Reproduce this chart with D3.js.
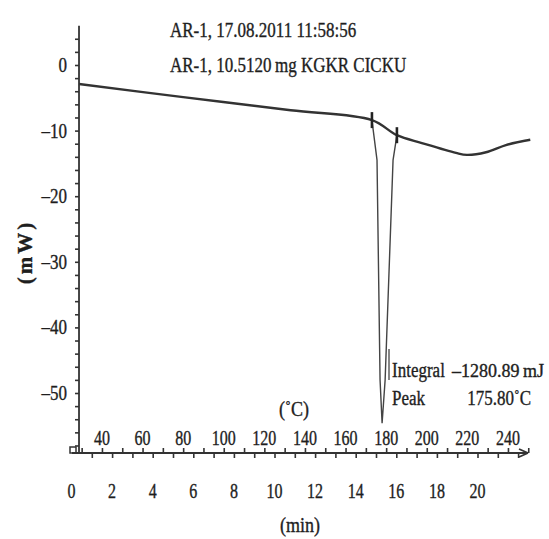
<!DOCTYPE html>
<html>
<head>
<meta charset="utf-8">
<script src="https://cdn.jsdelivr.net/npm/d3@7"></script>
<style>
  body { margin: 0; background: #fff; }
  text { font-family: "Liberation Serif", "DejaVu Serif", serif; fill: #1e1e1e; stroke: #1e1e1e; stroke-width: 0.35; }
</style>
</head>
<body>
<div id="chart"></div>
<script>
// DSC curve (time in min, heat flow in mW)
var curveTime = [0.37, 5.5, 10.8, 14.8, 16.03, 17.26, 18.94, 19.48, 20.42, 21.4, 22.6];
var curveFlow = [-2.9, -4.9, -6.9, -8.4, -10.7, -11.9, -13.4, -13.7, -13.3, -12.2, -11.4];

// melting peak between the two integration limits
var peakTime = [14.8, 15.05, 15.2, 15.3, 15.45, 15.84, 16.03];
var peakFlow = [-8.4, -14.5, -48.0, -54.6, -48.0, -14.5, -10.7];

// integration limits
var limitTime = [14.8, 16.03];
var limitFlow = [-8.4, -10.7];

var flowTicks = [0, -10, -20, -30, -40, -50];
var minTicks = [0, 2, 4, 6, 8, 10, 12, 14, 16, 18, 20];
var tempTicks = [40, 60, 80, 100, 120, 140, 160, 180, 200, 220, 240];

var titleLines = ["AR-1, 17.08.2011 11:58:56", "AR-1, 10.5120\u2009mg KGKR CICKU"];
var integralText = "\u20131280.89\u2009mJ";
var peakText = "175.80\u02DAC";

var svgWidth = 549;
var svgHeight = 539;

// squeeze text sideways, the source uses a narrow Times
function condense(sel, k) {
    sel.each(function() {
        var w = this.getComputedTextLength();
        d3.select(this)
            .attr("textLength", w * k)
            .attr("lengthAdjust", "spacingAndGlyphs");
    });
}

var svg = d3.select("#chart")
    .append("svg")
    .attr("width", svgWidth)
    .attr("height", svgHeight);

// scales: 10 C per minute, starting at 25 C
var x = d3.scaleLinear().domain([0, 20]).range([71.5, 477.5]);
var xT = d3.scaleLinear().domain([25, 225]).range([71.5, 477.5]);
var y = d3.scaleLinear().domain([0, -50]).range([65, 393]);

var axisY = 453;
var yAxisX = x(0.37);
var ink = "#333";

// y axis
svg.append("line")
    .attr("x1", yAxisX).attr("x2", yAxisX)
    .attr("y1", y(6)).attr("y2", axisY)
    .attr("stroke", ink).attr("stroke-width", 1.8);

var leftAxis = d3.axisLeft(y)
    .tickValues(d3.range(4, -59, -2))
    .tickSize(4)
    .tickFormat("");
svg.append("g")
    .attr("transform", `translate(${yAxisX},0)`)
    .call(leftAxis)
    .call(g => g.select(".domain").remove())
    .selectAll("line").attr("stroke", ink).attr("stroke-width", 1.6);

svg.selectAll(".ylab")
    .data(flowTicks)
    .enter()
    .append("text")
    .attr("class", "ylab")
    .attr("x", 67)
    .attr("y", d => y(d) + 7)
    .attr("text-anchor", "end")
    .attr("font-size", 20)
    .text(d => d === 0 ? "0" : "\u2013" + Math.abs(d))
    .call(condense, 0.85);

svg.append("text")
    .attr("transform", "translate(32,252) rotate(-90)")
    .attr("text-anchor", "middle")
    .attr("font-size", 21)
    .attr("font-weight", "bold")
    .attr("letter-spacing", 3)
    .text("(mW)");

// x axis with arrow
svg.append("line")
    .attr("x1", 72).attr("x2", 528)
    .attr("y1", axisY).attr("y2", axisY)
    .attr("stroke", ink).attr("stroke-width", 2);
svg.append("path")
    .attr("d", `M528,${axisY} l-9,-4 M528,${axisY} l-9,4`)
    .attr("stroke", ink).attr("stroke-width", 1.8).attr("fill", "none");
svg.append("rect")
    .attr("x", 70).attr("y", axisY - 6)
    .attr("width", 6).attr("height", 6)
    .attr("fill", "none").attr("stroke", ink).attr("stroke-width", 1.5);

// minute ticks below
var bottomAxis = d3.axisBottom(x)
    .tickValues(d3.range(1, 23, 1))
    .tickSize(5)
    .tickFormat("");
svg.append("g")
    .attr("transform", `translate(0,${axisY})`)
    .call(bottomAxis)
    .call(g => g.select(".domain").remove())
    .selectAll("line").attr("stroke", ink).attr("stroke-width", 1.6);

// temperature ticks above
var topAxis = d3.axisTop(xT)
    .tickValues(d3.range(30, 251, 10))
    .tickSize(5)
    .tickFormat("");
svg.append("g")
    .attr("transform", `translate(0,${axisY})`)
    .call(topAxis)
    .call(g => g.select(".domain").remove())
    .selectAll("line").attr("stroke", ink).attr("stroke-width", 1.6);

svg.selectAll(".mlab")
    .data(minTicks)
    .enter()
    .append("text")
    .attr("class", "mlab")
    .attr("x", d => x(d))
    .attr("y", 498)
    .attr("text-anchor", "middle")
    .attr("font-size", 20)
    .text(d => d)
    .call(condense, 0.8);

svg.selectAll(".tlab")
    .data(tempTicks)
    .enter()
    .append("text")
    .attr("class", "tlab")
    .attr("x", d => xT(d))
    .attr("y", 445)
    .attr("text-anchor", "middle")
    .attr("font-size", 20)
    .text(d => d)
    .call(condense, 0.8);

svg.append("text")
    .attr("x", 294).attr("y", 416)
    .attr("text-anchor", "middle")
    .attr("font-size", 20)
    .text("(\u02DAC)")
    .call(condense, 0.9);

svg.append("text")
    .attr("x", 300).attr("y", 532)
    .attr("text-anchor", "middle")
    .attr("font-size", 20)
    .text("(min)")
    .call(condense, 0.9);

// titles
svg.selectAll(".title")
    .data(titleLines)
    .enter()
    .append("text")
    .attr("class", "title")
    .attr("x", 170)
    .attr("y", (d, i) => 37 + i * 35)
    .attr("font-size", 20)
    .text(d => d)
    .call(condense, 0.85);

// curves
var line = d3.line()
    .x(d => x(d[0]))
    .y(d => y(d[1]));

svg.append("path")
    .datum(d3.zip(peakTime, peakFlow))
    .attr("d", line.curve(d3.curveLinear))
    .attr("fill", "none")
    .attr("stroke", "#444")
    .attr("stroke-width", 1.4);

svg.append("path")
    .datum(d3.zip(curveTime, curveFlow))
    .attr("d", line.curve(d3.curveCatmullRom))
    .attr("fill", "none")
    .attr("stroke", ink)
    .attr("stroke-width", 2.4);

// integration limit markers
svg.selectAll(".limit")
    .data(d3.zip(limitTime, limitFlow))
    .enter()
    .append("line")
    .attr("class", "limit")
    .attr("x1", d => x(d[0])).attr("x2", d => x(d[0]))
    .attr("y1", d => y(d[1]) - 8).attr("y2", d => y(d[1]) + 8)
    .attr("stroke", "#222").attr("stroke-width", 2.6);

// peak annotation
svg.append("line")
    .attr("x1", 389).attr("x2", 389)
    .attr("y1", 349).attr("y2", 380)
    .attr("stroke", "#444").attr("stroke-width", 1.3);

svg.append("text").attr("x", 392).attr("y", 377).attr("font-size", 20)
    .text("Integral").call(condense, 0.85);
svg.append("text").attr("x", 544).attr("y", 377).attr("text-anchor", "end").attr("font-size", 18)
    .text(integralText);
svg.append("text").attr("x", 531).attr("y", 405).attr("text-anchor", "end").attr("font-size", 20)
    .text(peakText).call(condense, 0.85);
svg.append("text").attr("x", 392).attr("y", 405).attr("font-size", 20)
    .text("Peak").call(condense, 0.85);
</script>
</body>
</html>
